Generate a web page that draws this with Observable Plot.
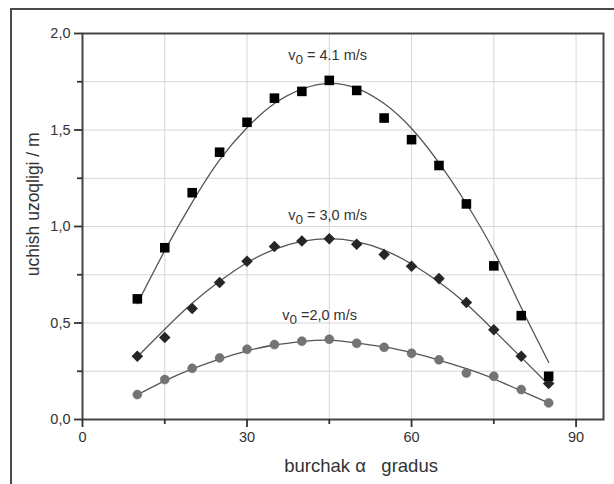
<!DOCTYPE html>
<html><head><meta charset="utf-8">
<script src="https://cdn.jsdelivr.net/npm/d3@7"></script>
<script src="https://cdn.jsdelivr.net/npm/@observablehq/plot@0.6"></script>
<style>
html,body{margin:0;padding:0;background:#fff;}
#wrap{position:relative;width:614px;height:484px;overflow:hidden;font-family:"Liberation Sans",Arial,sans-serif;}
#outer{position:absolute;left:10px;top:8px;width:700px;height:474px;border-left:2px solid #4a4a4a;border-top:2px solid #4a4a4a;border-bottom:1px solid #e4e4e4;}
#chart{position:absolute;left:0;top:0;}
</style></head><body>
<div id="wrap"><div id="outer"></div><div id="chart"></div></div>
<script>
// launch angle (degrees)
const angles = [10,15,20,25,30,35,40,45,50,55,60,65,70,75,80,85];
// measured ranges (m)
const range41 = [0.625,0.89,1.175,1.385,1.54,1.665,1.70,1.757,1.705,1.562,1.45,1.316,1.117,0.796,0.538,0.224];
const range30 = [0.328,0.425,0.575,0.71,0.82,0.896,0.925,0.936,0.908,0.855,0.794,0.73,0.606,0.465,0.328,0.187];
const range20 = [0.129,0.207,0.265,0.319,0.364,0.388,0.406,0.416,0.395,0.374,0.343,0.309,0.241,0.224,0.155,0.086];
// fitted curves
const fit41 = [0.60,0.875,1.125,1.345,1.512,1.637,1.712,1.742,1.716,1.637,1.508,1.33,1.118,0.873,0.58,0.296];
const fit30 = [0.325,0.468,0.602,0.716,0.812,0.882,0.923,0.937,0.922,0.878,0.806,0.712,0.598,0.462,0.322,0.18];
const fit20 = [0.128,0.20,0.262,0.313,0.356,0.386,0.404,0.411,0.396,0.376,0.346,0.308,0.263,0.211,0.148,0.086];
// series labels
const seriesNames = ["v0 = 4.1 m/s","v0 = 3,0 m/s","v0 =2,0 m/s"];
const labelX = [37.5,37.5,36.4];
const labelY = [1.887,1.057,0.539];
// axes
const xTicks = [0,30,60,90];
const xMinor = [15,45,75];
const xGrid = [15,30,45,60,75,90];
const yTicks = [0,0.5,1.0,1.5,2.0];
const yMinor = [0.25,0.75,1.25,1.75];
const yGrid = [0.25,0.5,0.75,1.0,1.25,1.5,1.75];
const xLabel = "burchak α   gradus";
const yLabel = "uchish uzoqligi / m";

const pts = (ys) => angles.map((a,i)=>({x:a,y:ys[i]}));
const fits = [fit41,fit30,fit20].flatMap((ys,k)=>angles.map((a,i)=>({x:a,y:ys[i],s:k})));
const labels = seriesNames.map((t,i)=>({t,x:labelX[i],y:labelY[i]}));
const font = "Liberation Sans, Arial, sans-serif";

const plot = Plot.plot({
  width:614, height:484,
  marginLeft:82, marginRight:11, marginTop:33, marginBottom:65,
  style:{fontFamily:font, background:"transparent", color:"#333"},
  x:{domain:[0,95]},
  y:{domain:[0,2]},
  marks:[
    Plot.gridX(xGrid,{stroke:"#d6d6d6", strokeOpacity:1, strokeWidth:1}),
    Plot.gridY(yGrid,{stroke:"#d6d6d6", strokeOpacity:1, strokeWidth:1}),
    Plot.line(fits,{x:"x", y:"y", z:"s", curve:"natural", stroke:"#555", strokeWidth:1.3}),
    Plot.dot(pts(range20),{x:"x", y:"y", r:4.5, fill:"#747474", stroke:"#666", strokeWidth:0.5}),
    Plot.dot(pts(range30),{x:"x", y:"y", r:5.2, symbol:"diamond2", fill:"#262626"}),
    Plot.dot(pts(range41),{x:"x", y:"y", r:5.4, symbol:"square", fill:"#000"}),
    Plot.text(labels,{x:"x", y:"y", text:"t", textAnchor:"start", fontSize:14.5, fill:"#333"}),
    Plot.frame({stroke:"#444", strokeWidth:2}),
    Plot.axisX(xTicks,{tickSize:8, tickPadding:4, fontSize:14.5, strokeWidth:1.8, stroke:"#333", fill:"#333", label:null, tickFormat:d=>String(d)}),
    Plot.axisX(xMinor,{tickSize:5, strokeWidth:1.8, stroke:"#333", text:null, label:null}),
    Plot.axisY(yTicks,{tickSize:8, tickPadding:4, fontSize:14.5, strokeWidth:1.8, stroke:"#333", fill:"#333", label:null, tickFormat:d=>d.toFixed(1).replace(".",",")}),
    Plot.axisY(yMinor,{tickSize:5, strokeWidth:1.8, stroke:"#333", text:null, label:null}),
    Plot.text([xLabel],{x:50.8, frameAnchor:"bottom", dy:47, lineAnchor:"middle", textAnchor:"middle", text:d=>d, fontSize:18.5, fill:"#333"}),
    Plot.text([yLabel],{y:1.115, frameAnchor:"left", dx:-49, rotate:-90, lineAnchor:"middle", textAnchor:"middle", text:d=>d, fontSize:17.5, fill:"#333"})
  ]
});
// subscript the "0" in v0 labels
d3.select(plot).selectAll("text").each(function(){
  const s = this.textContent;
  if (s.startsWith("v0")) {
    const el = d3.select(this);
    el.text(null);
    el.append("tspan").text("v");
    el.append("tspan").attr("dy","4").attr("font-size","13.5").text("0");
    el.append("tspan").attr("dy","-4").text(s.slice(2));
  }
});
document.getElementById("chart").appendChild(plot);
</script>
</body></html>
